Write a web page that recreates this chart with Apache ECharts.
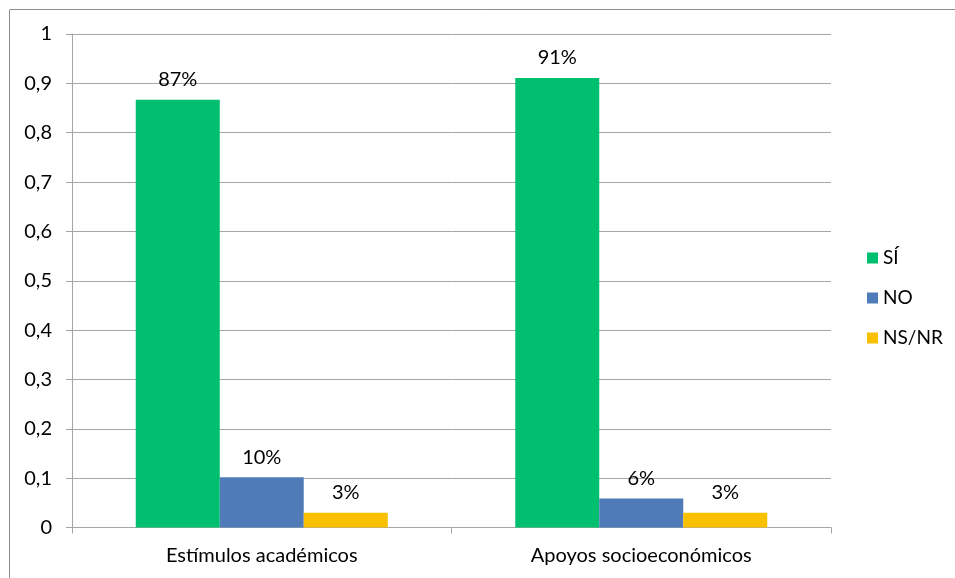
<!DOCTYPE html>
<html>
<head>
<meta charset="utf-8">
<script src="https://cdn.jsdelivr.net/npm/echarts@6/dist/echarts.min.js"></script>
<style>
html,body{margin:0;padding:0;background:#fff;}
#chart{width:955px;height:578px;}
</style>
</head>
<body>
<div id="chart"></div>
<script>
const categories = ['Estímulos académicos', 'Apoyos socioeconómicos'];
const seriesNames = ['SÍ', 'NO', 'NS/NR'];
const valuesSi = [0.867, 0.911];
const valuesNo = [0.102, 0.059];
const valuesNsNr = [0.03, 0.03];
const yTicks = [0, 0.1, 0.2, 0.3, 0.4, 0.5, 0.6, 0.7, 0.8, 0.9, 1];
const colors = ['#00BF6F', '#4F7CB8', '#F9C000'];

const FONT = 'Lato';
const chart = echarts.init(document.getElementById('chart'), null, {renderer: 'canvas'});
const dataSets = [valuesSi, valuesNo, valuesNsNr];

const option = {
  animation: false,
  backgroundColor: '#fff',
  textStyle: {fontFamily: FONT},
  graphic: [
    {type: 'line', shape: {x1: 10, y1: 9.5, x2: 955, y2: 9.5}, style: {stroke: '#8c8c8c', lineWidth: 1}},
    {type: 'line', shape: {x1: 9.5, y1: 9.5, x2: 9.5, y2: 578}, style: {stroke: '#8c8c8c', lineWidth: 1}}
  ],
  grid: {left: 72, right: 124, top: 34, bottom: 50.5, containLabel: false},
  legend: {
    orient: 'vertical',
    left: 862,
    top: 242,
    itemWidth: 11,
    itemHeight: 11,
    itemGap: 18,
    icon: 'rect',
    data: seriesNames,
    textStyle: {fontFamily: FONT, fontSize: 19, color: '#000', lineHeight: 22}
  },
  xAxis: {
    type: 'category',
    data: categories,
    axisLine: {show: true, lineStyle: {color: '#a6a6a6', width: 1}},
    axisTick: {show: true, length: 6, lineStyle: {color: '#a6a6a6'}},
    axisLabel: {fontFamily: FONT, fontSize: 20, color: '#000', margin: 18}
  },
  yAxis: {
    type: 'value',
    min: 0,
    max: 1,
    interval: 0.1,
    axisLine: {show: true, lineStyle: {color: '#a6a6a6', width: 1}},
    axisTick: {show: true, length: 6, lineStyle: {color: '#a6a6a6'}},
    splitLine: {show: true, lineStyle: {color: '#a6a6a6', width: 1}},
    axisLabel: {
      fontFamily: FONT, fontSize: 20, color: '#000', margin: 20,
      formatter: function (v) {
        const t = yTicks.find(x => Math.abs(x - v) < 1e-9);
        return String(+((t !== undefined ? t : v).toFixed(1))).replace('.', ',');
      }
    }
  },
  series: seriesNames.map((name, i) => ({
    name: name,
    type: 'bar',
    data: dataSets[i],
    barWidth: 84,
    barGap: '0%',
    itemStyle: {color: colors[i]},
    label: {
      show: true,
      position: 'top',
      distance: 10,
      fontFamily: FONT,
      fontSize: 20,
      color: '#000',
      formatter: p => Math.round(p.value * 100) + '%'
    }
  }))
};
chart.setOption(option);
</script>
</body>
</html>
